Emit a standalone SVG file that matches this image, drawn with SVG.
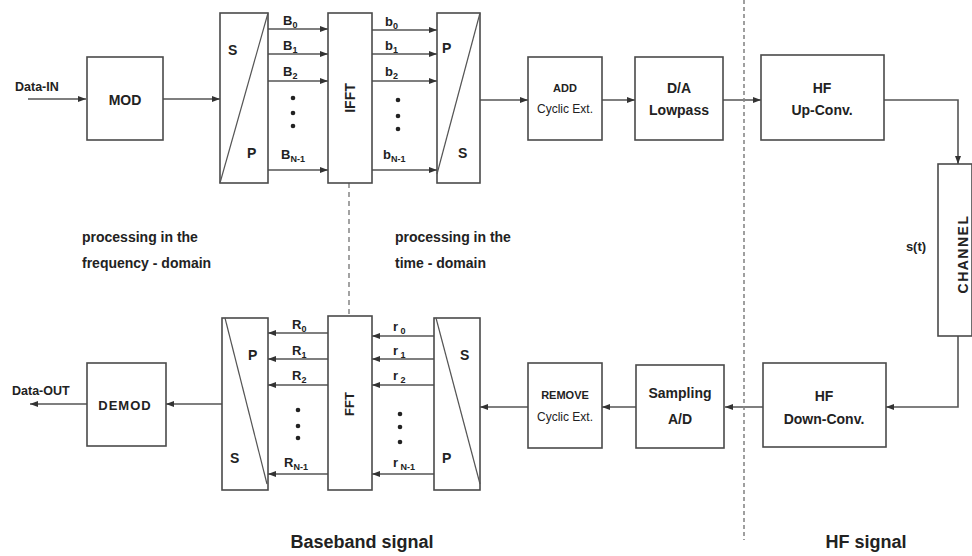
<svg xmlns="http://www.w3.org/2000/svg" width="972" height="556" viewBox="0 0 972 556">
<defs>
<style>
.box{fill:#fff;stroke:#4a4a4a;stroke-width:1.6}
.ln{fill:none;stroke:#555;stroke-width:1.6}
.arr{fill:none;stroke:#555;stroke-width:1.6;marker-end:url(#ah)}
.diag{fill:none;stroke:#555;stroke-width:1.2}
.dash{fill:none;stroke:#888;stroke-width:1.6;stroke-dasharray:4,3}
.dash2{fill:none;stroke:#666;stroke-width:1.2;stroke-dasharray:5,4}
text{font-family:"Liberation Sans",Arial,sans-serif;fill:#222;font-weight:bold}
.lb{font-size:13px;text-anchor:middle}
.big{font-size:14px;text-anchor:middle}
.sm{font-size:12.5px}
.nr{font-weight:normal}
.cap{font-size:14px}
.sig{font-size:18px;text-anchor:middle}
.sub{font-size:9px}
.dot{fill:#222}
</style>
<marker id="ah" markerUnits="userSpaceOnUse" markerWidth="9" markerHeight="7" refX="8" refY="3.5" orient="auto">
<path d="M0,0.5 L8,3.5 L0,6.5 z" fill="#333"/>
</marker>
</defs>
<rect width="972" height="556" fill="#fff"/>

<g id="connectors">
<line class="arr" x1="28" y1="99" x2="86" y2="99"/>
<line class="arr" x1="163" y1="99" x2="220" y2="99"/>
<line class="arr" x1="268" y1="29" x2="328" y2="29"/>
<line class="arr" x1="268" y1="54" x2="328" y2="54"/>
<line class="arr" x1="268" y1="81" x2="328" y2="81"/>
<line class="arr" x1="268" y1="170" x2="328" y2="170"/>
<line class="arr" x1="372" y1="30" x2="437" y2="30"/>
<line class="arr" x1="372" y1="54" x2="437" y2="54"/>
<line class="arr" x1="372" y1="81" x2="437" y2="81"/>
<line class="arr" x1="372" y1="170" x2="437" y2="170"/>
<line class="arr" x1="480" y1="100" x2="528" y2="100"/>
<line class="arr" x1="602" y1="100" x2="635" y2="100"/>
<line class="arr" x1="723" y1="100" x2="761" y2="100"/>
<path class="arr" d="M884,100 H958 V164"/>
<path class="arr" d="M958,336 V407 H886"/>
<line class="arr" x1="763" y1="407" x2="725" y2="407"/>
<line class="arr" x1="636" y1="407" x2="602" y2="407"/>
<line class="arr" x1="528" y1="407" x2="480" y2="407"/>
<line class="arr" x1="434" y1="336" x2="372" y2="336"/>
<line class="arr" x1="434" y1="359" x2="372" y2="359"/>
<line class="arr" x1="434" y1="385" x2="372" y2="385"/>
<line class="arr" x1="434" y1="474" x2="372" y2="474"/>
<line class="arr" x1="328" y1="333" x2="268" y2="333"/>
<line class="arr" x1="328" y1="359" x2="268" y2="359"/>
<line class="arr" x1="328" y1="385" x2="268" y2="385"/>
<line class="arr" x1="328" y1="474" x2="268" y2="474"/>
<line class="arr" x1="222" y1="404" x2="166" y2="404"/>
<line class="arr" x1="87" y1="404" x2="30" y2="404"/>
<line class="dash2" x1="349" y1="183" x2="349" y2="316"/>
<line class="dash" x1="744" y1="0" x2="744" y2="540"/>
</g>

<g id="data-in"><text class="sm" x="15" y="91">Data-IN</text></g>
<g id="mod"><rect class="box" x="87" y="57" width="76" height="83"/><text class="big" x="125" y="105">MOD</text></g>

<g id="sp-top">
<rect class="box" x="220" y="13" width="48" height="170"/>
<line class="diag" x1="220" y1="183" x2="268" y2="13"/>
<text class="cap" x="228" y="55">S</text>
<text class="cap" x="247" y="158">P</text>
</g>

<g id="b-labels">
<text class="lb" x="283" y="25" style="text-anchor:start">B<tspan class="sub" dy="3">0</tspan></text>
<text class="lb" x="283" y="50" style="text-anchor:start">B<tspan class="sub" dy="3">1</tspan></text>
<text class="lb" x="283" y="76" style="text-anchor:start">B<tspan class="sub" dy="3">2</tspan></text>
<text class="lb" x="281" y="159" style="text-anchor:start">B<tspan class="sub" dy="3">N-1</tspan></text>
<circle class="dot" cx="293" cy="98" r="2.3"/><circle class="dot" cx="293" cy="113" r="2.3"/><circle class="dot" cx="293" cy="126" r="2.3"/>
</g>

<g id="ifft"><rect class="box" x="328" y="13" width="44" height="170"/><text class="cap" transform="translate(355,98) rotate(-90)" text-anchor="middle">IFFT</text></g>

<g id="bl-labels">
<text class="lb" x="385" y="26" style="text-anchor:start">b<tspan class="sub" dy="3">0</tspan></text>
<text class="lb" x="385" y="50" style="text-anchor:start">b<tspan class="sub" dy="3">1</tspan></text>
<text class="lb" x="385" y="76" style="text-anchor:start">b<tspan class="sub" dy="3">2</tspan></text>
<text class="lb" x="383" y="159" style="text-anchor:start">b<tspan class="sub" dy="3">N-1</tspan></text>
<circle class="dot" cx="398" cy="100" r="2.3"/><circle class="dot" cx="398" cy="116" r="2.3"/><circle class="dot" cx="398" cy="129" r="2.3"/>
</g>

<g id="ps-top">
<rect class="box" x="437" y="13" width="43" height="170"/>
<line class="diag" x1="437" y1="174" x2="480" y2="13"/>
<text class="cap" x="442" y="53">P</text>
<text class="cap" x="458" y="158">S</text>
</g>

<g id="add"><rect class="box" x="528" y="57" width="74" height="83"/><text class="lb" x="565" y="92" style="font-size:11px">ADD</text><text class="lb nr" x="565" y="113" style="font-size:12px">Cyclic Ext.</text></g>
<g id="da"><rect class="box" x="635" y="57" width="88" height="83"/><text class="big" x="679" y="93">D/A</text><text class="big" x="679" y="115">Lowpass</text></g>
<g id="hf-up"><rect class="box" x="761" y="55" width="123" height="85"/><text class="big" x="822" y="93">HF</text><text class="big" x="822" y="115">Up-Conv.</text></g>

<g id="channel"><rect class="box" x="938" y="164" width="34" height="172"/><text class="cap" transform="translate(968,254) rotate(-90)" text-anchor="middle" letter-spacing="1.5">CHANNEL</text></g>
<g id="st"><text class="lb" x="916" y="251">s(t)</text></g>

<g id="hf-down"><rect class="box" x="763" y="363" width="123" height="84"/><text class="big" x="824" y="401">HF</text><text class="big" x="824" y="424">Down-Conv.</text></g>
<g id="sampling"><rect class="box" x="636" y="365" width="88" height="83"/><text class="big" x="680" y="398">Sampling</text><text class="big" x="680" y="424">A/D</text></g>
<g id="remove"><rect class="box" x="528" y="363" width="74" height="85"/><text class="lb" x="565" y="399" style="font-size:11px">REMOVE</text><text class="lb nr" x="565" y="421" style="font-size:12px">Cyclic Ext.</text></g>

<g id="sp-bottom">
<rect class="box" x="434" y="318" width="46" height="172"/>
<line class="diag" x1="436" y1="318" x2="480" y2="484"/>
<text class="cap" x="460" y="360">S</text>
<text class="cap" x="442" y="463">P</text>
</g>

<g id="r-labels">
<text class="lb" x="393" y="331" style="text-anchor:start">r<tspan class="sub" dy="3"> 0</tspan></text>
<text class="lb" x="393" y="355" style="text-anchor:start">r<tspan class="sub" dy="3"> 1</tspan></text>
<text class="lb" x="393" y="380" style="text-anchor:start">r<tspan class="sub" dy="3"> 2</tspan></text>
<text class="lb" x="393" y="467" style="text-anchor:start">r<tspan class="sub" dy="3"> N-1</tspan></text>
<circle class="dot" cx="400" cy="414" r="2.3"/><circle class="dot" cx="400" cy="427" r="2.3"/><circle class="dot" cx="400" cy="442" r="2.3"/>
</g>

<g id="fft"><rect class="box" x="328" y="316" width="44" height="174"/><text class="cap" transform="translate(354,404) rotate(-90)" text-anchor="middle" style="font-size:13px">FFT</text></g>

<g id="R-labels">
<text class="lb" x="292" y="329" style="text-anchor:start">R<tspan class="sub" dy="3">0</tspan></text>
<text class="lb" x="292" y="355" style="text-anchor:start">R<tspan class="sub" dy="3">1</tspan></text>
<text class="lb" x="292" y="380" style="text-anchor:start">R<tspan class="sub" dy="3">2</tspan></text>
<text class="lb" x="284" y="467" style="text-anchor:start">R<tspan class="sub" dy="3">N-1</tspan></text>
<circle class="dot" cx="298" cy="410" r="2.3"/><circle class="dot" cx="298" cy="426" r="2.3"/><circle class="dot" cx="298" cy="438" r="2.3"/>
</g>

<g id="ps-bottom">
<rect class="box" x="222" y="318" width="46" height="172"/>
<line class="diag" x1="225" y1="318" x2="267" y2="484"/>
<text class="cap" x="248" y="360">P</text>
<text class="cap" x="230" y="463">S</text>
</g>

<g id="demod"><rect class="box" x="87" y="363" width="79" height="83"/><text class="lb" x="125" y="410" style="font-size:13px" letter-spacing="1">DEMOD</text></g>
<g id="data-out"><text class="sm" x="12" y="395">Data-OUT</text></g>

<g id="captions">
<text class="cap" x="82" y="242">processing in the</text>
<text class="cap" x="82" y="268">frequency - domain</text>
<text class="cap" x="395" y="242">processing in the</text>
<text class="cap" x="395" y="268">time - domain</text>
<text class="sig" x="362" y="548">Baseband signal</text>
<text class="sig" x="866" y="548">HF signal</text>
</g>
</svg>
